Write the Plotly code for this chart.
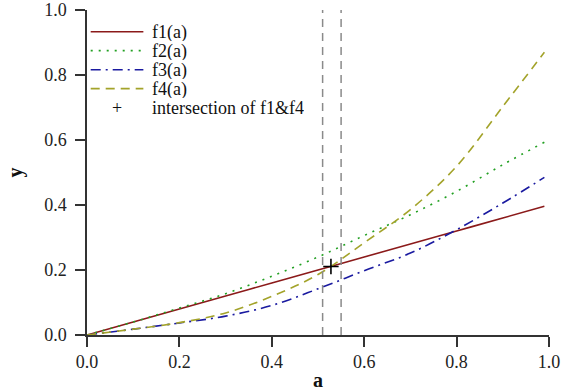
import plotly.graph_objects as go

# ---- data ----
a_vals = [0.0, 0.1, 0.2, 0.3, 0.4, 0.5, 0.6, 0.7, 0.8, 0.9, 0.99]
f1_vals = [0.0, 0.04, 0.08, 0.12, 0.16, 0.20, 0.24, 0.28, 0.32, 0.36, 0.396]
f2_vals = [0.0, 0.04, 0.083, 0.127, 0.181, 0.240, 0.306, 0.370, 0.442, 0.524, 0.593]
f3_vals = [0.0, 0.018, 0.037, 0.058, 0.091, 0.142, 0.198, 0.252, 0.324, 0.406, 0.485]
f4_vals = [0.0, 0.018, 0.038, 0.068, 0.119, 0.186, 0.284, 0.386, 0.519, 0.703, 0.870]
inter_x = [0.528]
inter_y = [0.211]
vlines_x = [0.51, 0.55]
series_names = ["f1(a)", "f2(a)", "f3(a)", "f4(a)"]
inter_name = "intersection of f1&f4"
x_ticks = [0.0, 0.2, 0.4, 0.6, 0.8, 1.0]
y_ticks = [0.0, 0.2, 0.4, 0.6, 0.8, 1.0]

FONT = "Liberation Serif"
styles = [
    dict(color="#8b1a1a", dash="solid"),
    dict(color="#22a022", dash="2px,6px"),
    dict(color="#1a1aa0", dash="10px,5px,2px,5px"),
    dict(color="#a3a32a", dash="9px,6px"),
]

fig = go.Figure()
for name, ys, st in zip(series_names, [f1_vals, f2_vals, f3_vals, f4_vals], styles):
    fig.add_trace(go.Scatter(
        x=a_vals, y=ys, mode="lines", name=name, showlegend=False,
        line=dict(color=st["color"], dash=st["dash"], width=1.6, shape="spline"),
    ))

fig.add_trace(go.Scatter(
    x=inter_x, y=inter_y, mode="markers", name=inter_name, showlegend=False,
    marker=dict(symbol="cross-thin", size=11, line=dict(color="black", width=1.6)),
    cliponaxis=False,
))

for xv in vlines_x:
    fig.add_vline(x=xv, line=dict(color="#8a8a8a", dash="8px,6px", width=1.5))

# manual legend (top-left inside plot area)
leg_x0, leg_x1, leg_tx = 0.008, 0.122, 0.139
row_y = [0.933, 0.875, 0.816, 0.758, 0.700]
LEG_FS = 18
for i, (name, st) in enumerate(zip(series_names, styles)):
    fig.add_shape(type="line", xref="paper", yref="paper",
                  x0=leg_x0, x1=leg_x1, y0=row_y[i], y1=row_y[i],
                  line=dict(color=st["color"], dash=st["dash"], width=1.6))
    fig.add_annotation(xref="paper", yref="paper", x=leg_tx, y=row_y[i],
                       text=name, showarrow=False, xanchor="left", yanchor="middle",
                       height=18, borderpad=0,
                       font=dict(family=FONT, size=LEG_FS, color="#111"))
fig.add_annotation(xref="paper", yref="paper", x=(leg_x0 + leg_x1) / 2, y=row_y[4],
                   text="+", showarrow=False, xanchor="center", yanchor="middle",
                   height=18, borderpad=0,
                   font=dict(family=FONT, size=LEG_FS, color="#111"))
fig.add_annotation(xref="paper", yref="paper", x=leg_tx, y=row_y[4],
                   text=inter_name, showarrow=False, xanchor="left", yanchor="middle",
                   height=18, borderpad=0,
                   font=dict(family=FONT, size=LEG_FS, color="#111"))

axis_common = dict(
    showgrid=False, zeroline=False, showline=True, linecolor="#333", linewidth=1.5,
    ticks="outside", ticklen=10, tickwidth=1.5, tickcolor="#333",
    tickfont=dict(family=FONT, size=18, color="#222"),
    range=[0, 1], tickformat=".1f", automargin=False,
)
fig.update_layout(
    template="none",
    width=561, height=391,
    margin=dict(l=87, r=12, t=10, b=56, autoexpand=False),
    plot_bgcolor="white", paper_bgcolor="white",
    showlegend=False,
    font=dict(family=FONT),
    xaxis=dict(**axis_common, tickvals=x_ticks,
               title=dict(text="<b>a</b>", font=dict(family=FONT, size=20, color="#111"), standoff=2)),
    yaxis=dict(**axis_common, tickvals=y_ticks, ticklabelstandoff=5,
               title=dict(text="<b>y</b>", font=dict(family=FONT, size=20, color="#111"), standoff=16)),
)

fig.write_html("out.html")
